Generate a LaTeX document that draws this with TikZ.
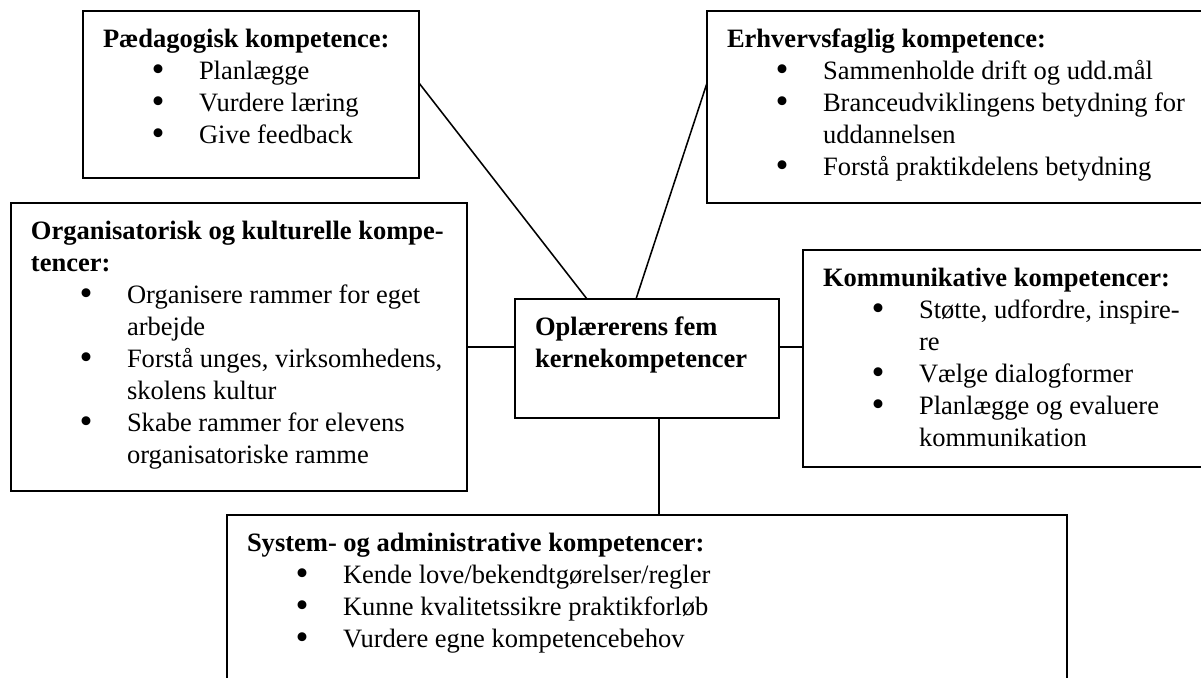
\documentclass[tikz,border=0pt]{standalone}
\usepackage{fontspec}
\setmainfont{Liberation Serif}
\usetikzlibrary{calc}

\newlength{\px}
\setlength{\px}{0.4525pt}
\newcommand{\boxtext}[3]{\parbox[c][#2\px][t]{#1\px}{\raggedright\baselineskip=32\px\rule{0pt}{36\px}#3}}
\newcommand{\pnt}{\par\hangindent=96\px\hangafter=0\noindent
  \llap{\makebox[0pt][c]{\raisebox{-1.2pt}{\scalebox{1.4}{\textbullet}}}\hspace{41\px}}}

\begin{document}
\begin{tikzpicture}[x=0.4525pt,y=-0.4525pt,
    comp box/.style={draw,line width=0.9pt,anchor=north west,inner xsep=9.05pt,
      inner ysep=0pt,outer sep=0pt,font=\fontsize{12pt}{14.5pt}\selectfont}]
\useasboundingbox (0,0) rectangle (1201,677);

\node[comp box] (ped) at (83,11) {\boxtext{296}{167}{\textbf{Pædagogisk kompetence:}
  \pnt Planlægge
  \pnt Vurdere læring
  \pnt Give feedback}};
\node[comp box] (erh) at (707,11) {\boxtext{458}{192}{\textbf{Erhvervsfaglig kompetence:}
  \pnt Sammenholde drift og udd.mål
  \pnt Branceudviklingens betydning for\newline uddannelsen
  \pnt Forstå praktikdelens betydning}};
\node[comp box] (org) at (11,203) {\boxtext{416}{288}{\textbf{Organisatorisk og kulturelle kompe-\newline tencer:}
  \pnt Organisere rammer for eget\newline arbejde
  \pnt Forstå unges, virksomhedens,\newline skolens kultur
  \pnt Skabe rammer for elevens\newline organisatoriske ramme}};
\node[comp box] (ctr) at (515,299) {\boxtext{224}{119}{\textbf{Oplærerens fem\newline kernekompetencer}}};
\node[comp box] (kom) at (803,250) {\boxtext{362}{217}{\textbf{Kommunikative kompetencer:}
  \pnt Støtte, udfordre, inspire-\newline re
  \pnt Vælge dialogformer
  \pnt Planlægge og evaluere\newline kommunikation}};
\node[comp box] (sys) at (227,515) {\boxtext{800}{170}{\textbf{System- og administrative kompetencer:}
  \pnt Kende love/bekendtgørelser/regler
  \pnt Kunne kvalitetssikre praktikforløb
  \pnt Vurdere egne kompetencebehov}};

\path[line width=0.7pt]
($(ped.east)+(0,-11.5)$) edge ($(ctr.north)+(-60,0)$)
($(erh.west)+(0,-24)$) edge ($(ctr.north)+(-11,0)$)
(org.east) edge ($(ctr.west)+(0,-11.5)$)
($(ctr.east)+(0,-11.5)$) edge ($(kom.west)+(0,-11.5)$)
($(ctr.south)+(12,0)$) edge ($(sys.north)+(12,0)$)
;

\end{tikzpicture}
\end{document}
